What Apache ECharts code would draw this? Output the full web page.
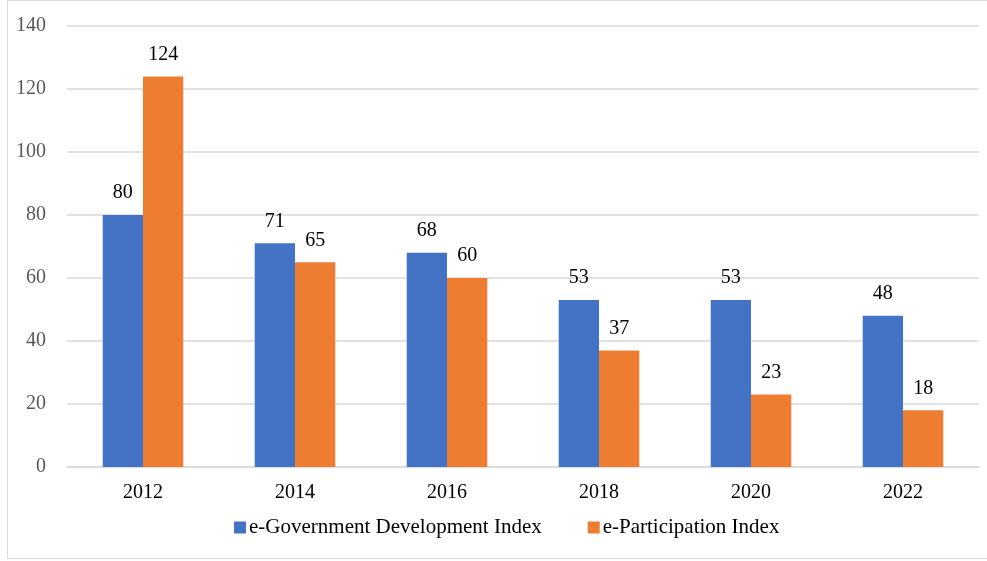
<!DOCTYPE html>
<html>
<head>
<meta charset="utf-8">
<script src="https://cdn.jsdelivr.net/npm/echarts@6/dist/echarts.min.js"></script>
<style>
  html, body { margin: 0; padding: 0; background: #fff; }
  #chart { width: 987px; height: 561px; }
</style>
</head>
<body>
<div id="chart"></div>
<script>
// values
let years = ['2012', '2014', '2016', '2018', '2020', '2022'];
let egovData = [80, 71, 68, 53, 53, 48];
let epartData = [124, 65, 60, 37, 23, 18];
let seriesNames = ['e-Government Development Index', 'e-Participation Index'];

let chart = echarts.init(document.getElementById('chart'));
let font = '"Liberation Serif", "Times New Roman", serif';

let labelStyle = {
  show: true,
  position: 'top',
  distance: 12,
  color: '#000',
  fontFamily: font,
  fontSize: 20
};

let option = {
  animation: false,
  textStyle: { fontFamily: font },
  graphic: [
    { // outer frame
      type: 'rect',
      shape: { x: 7.5, y: 0.5, width: 990, height: 558 },
      style: { fill: 'none', stroke: '#d9d9d9', lineWidth: 1 },
      silent: true
    }
  ],
  grid: {
    left: 67,
    right: 8,
    top: 26,
    bottom: 94
  },
  legend: {
    top: 512,
    left: 229,
    itemWidth: 12,
    itemHeight: 12,
    itemGap: 46,
    icon: 'rect',
    textStyle: { fontFamily: font, fontSize: 21, color: '#000', padding: [0, 0, 0, -2] },
    data: seriesNames
  },
  xAxis: {
    type: 'category',
    data: years,
    axisTick: { show: false },
    axisLine: { lineStyle: { color: '#d9d9d9', width: 1.5 } },
    axisLabel: { color: '#000', fontFamily: font, fontSize: 20, margin: 16 }
  },
  yAxis: {
    type: 'value',
    min: 0,
    max: 140,
    interval: 20,
    axisLine: { show: false },
    axisTick: { show: false },
    splitLine: { lineStyle: { color: '#d9d9d9', width: 1.5 } },
    axisLabel: { color: '#595959', fontFamily: font, fontSize: 20, margin: 21 }
  },
  series: [
    {
      name: seriesNames[0],
      type: 'bar',
      data: egovData,
      barGap: '0%',
      barCategoryGap: '47%',
      itemStyle: { color: '#4472c4' },
      label: labelStyle
    },
    {
      name: seriesNames[1],
      type: 'bar',
      data: epartData,
      itemStyle: { color: '#ed7d31' },
      label: labelStyle
    }
  ]
};

chart.setOption(option);
</script>
</body>
</html>
